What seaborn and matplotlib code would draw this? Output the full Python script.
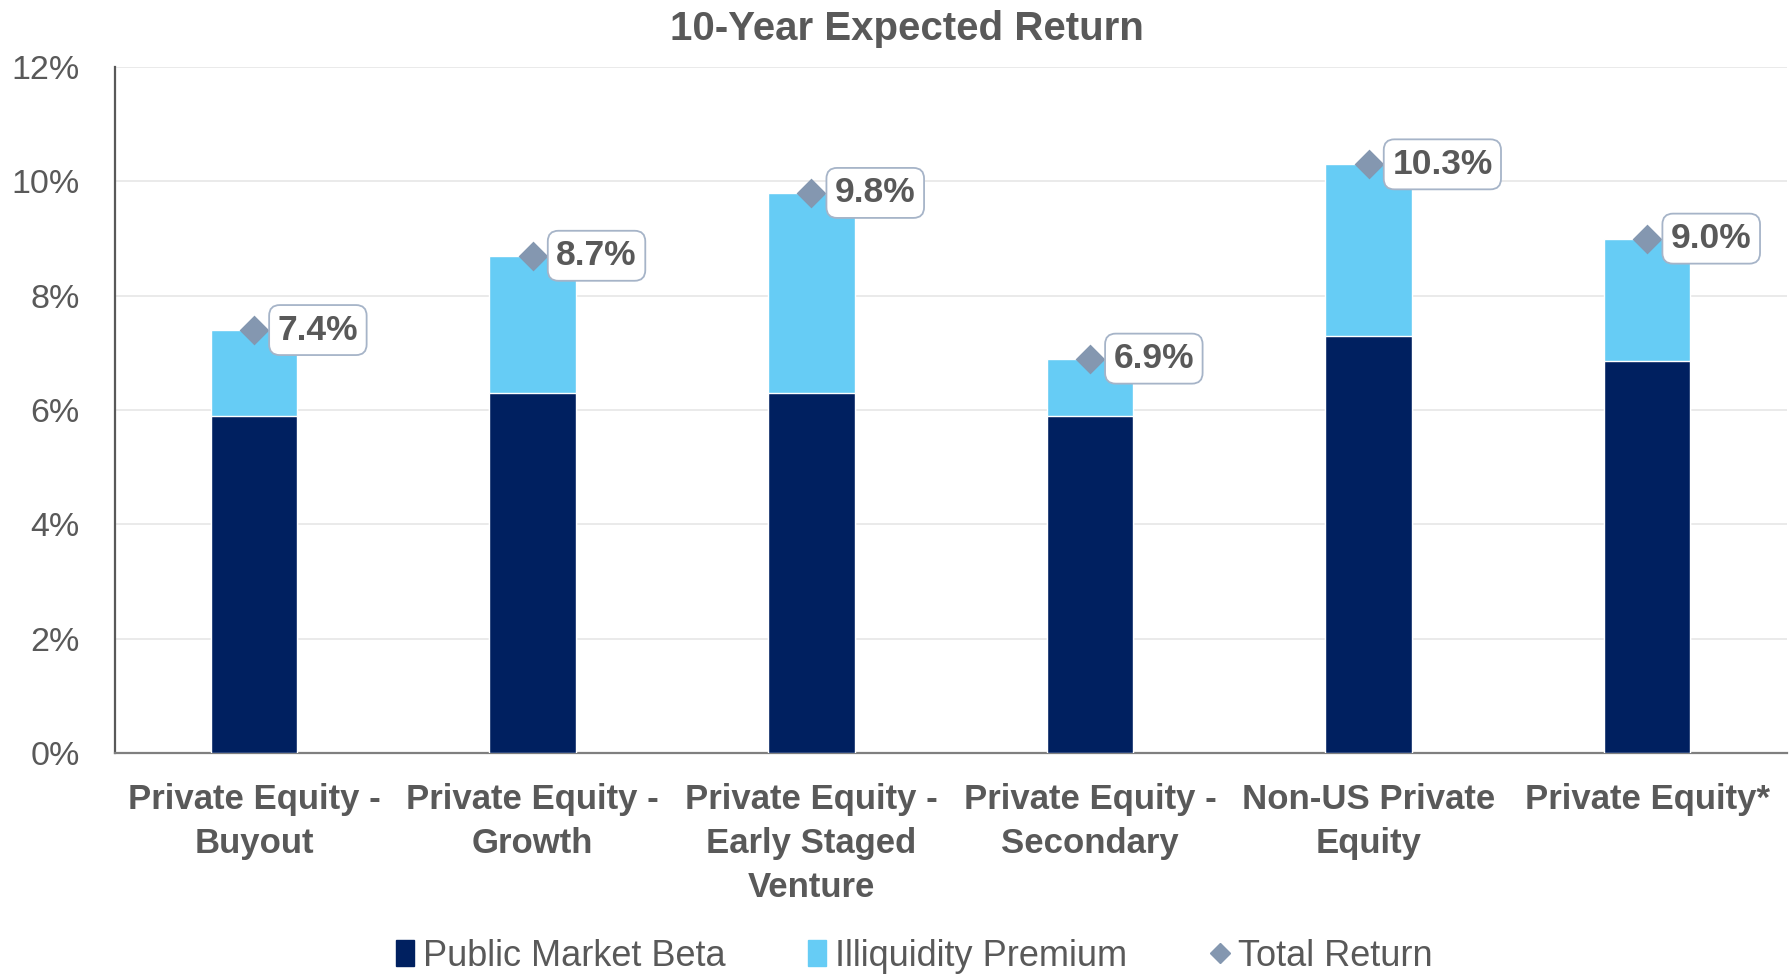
import matplotlib
matplotlib.use('Agg')
import matplotlib.pyplot as plt
import seaborn as sns
import pandas as pd
from matplotlib.lines import Line2D
from matplotlib.patches import Patch

categories = ['Private Equity -\nBuyout', 'Private Equity -\nGrowth', 'Private Equity -\nEarly Staged\nVenture',
              'Private Equity -\nSecondary', 'Non-US Private\nEquity', 'Private Equity*']
public_beta = [5.9, 6.3, 6.3, 5.9, 7.3, 6.85]
total_return = [7.4, 8.7, 9.8, 6.9, 10.3, 9.0]
yticks = [0, 2, 4, 6, 8, 10, 12]

navy = '#002060'
light = '#66CCF5'
diamond = '#8497B0'
grey = '#595959'

sns.set_style('white')
plt.rcParams['font.family'] = ['Liberation Sans', 'DejaVu Sans']

df = pd.DataFrame({'cat': categories, 'beta': public_beta, 'total': total_return})

fig = plt.figure(figsize=(17.92, 9.74), dpi=100)
ax = fig.add_axes([0.064, 0.227, 0.933, 0.704])

# light bars = total, dark bars drawn over them = public market beta
sns.barplot(data=df, x='cat', y='total', color=light, width=0.31, saturation=1, ax=ax, zorder=2)
sns.barplot(data=df, x='cat', y='beta', color=navy, width=0.31, saturation=1, ax=ax, zorder=3)

xs = range(len(categories))
ax.scatter(xs, total_return, marker='D', s=230, color=diamond, zorder=5, linewidths=0)
for x, t in zip(xs, total_return):
    ax.annotate(f'{t:.1f}%', (x, t), xytext=(17, 0), textcoords='offset points',
                ha='left', va='center', fontsize=25.5, fontweight='bold', color=grey, zorder=6,
                bbox=dict(boxstyle='round,pad=0.24,rounding_size=0.3', fc='white', ec='#A6B4C8', lw=1.3))

ax.set_ylim(0, 12)
ax.set_xlim(-0.5, len(categories) - 0.5)
ax.set_yticks(yticks)
ax.set_yticklabels([f'{v}%' for v in yticks], fontsize=24.5, color=grey)
ax.tick_params(axis='y', length=0, pad=25)
ax.tick_params(axis='x', length=0, pad=22)
ax.set_xticks(list(xs))
ax.set_xticklabels(categories, fontsize=25, fontweight='bold', color=grey, linespacing=1.42, va='top')
ax.set_xlabel('')
ax.set_ylabel('')
ax.yaxis.grid(True, color='#E8E8E8', lw=1.3, zorder=0)
ax.set_axisbelow(True)
for s in ['top', 'right']:
    ax.spines[s].set_visible(False)
ax.spines['left'].set_color('#595959')
ax.spines['left'].set_linewidth(1.6)
ax.spines['bottom'].set_color('#7F7F7F')
ax.spines['bottom'].set_linewidth(1.6)

fig.suptitle('10-Year Expected Return', fontsize=29, fontweight='bold', color=grey, x=0.506, y=0.99, va='top')

handles = [Patch(color=navy, label='Public Market Beta'),
           Patch(color=light, label='Illiquidity Premium'),
           Line2D([], [], marker='D', color=diamond, lw=0, markersize=10, label='Total Return')]
leg = fig.legend(handles=handles, loc='lower center', bbox_to_anchor=(0.51, -0.033), ncol=3, frameon=False,
                 fontsize=26, handlelength=0.5, handleheight=0.7, handletextpad=0.25, columnspacing=2.3)
for t in leg.get_texts():
    t.set_color(grey)

fig.savefig('out.png', dpi=100)
